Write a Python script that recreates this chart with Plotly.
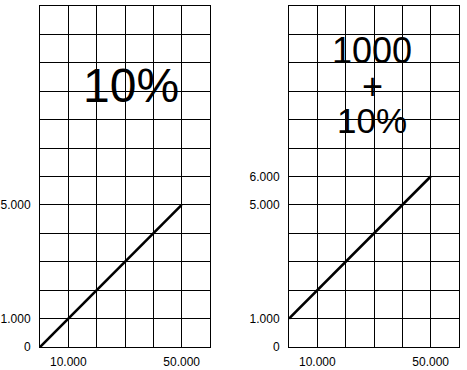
import plotly.graph_objects as go
from plotly.subplots import make_subplots

# Data
x_vals = [0, 50000]
left_y = [0, 5000]
right_y = [1000, 6000]

x_tickvals = [0, 10000, 20000, 30000, 40000, 50000, 60000]
x_ticktext = ["", "10.000", "", "", "", "50.000", ""]
y_tickvals = list(range(0, 13000, 1000))
left_y_ticktext = ["0", "1.000", "", "", "", "5.000", "", "", "", "", "", "", ""]
right_y_ticktext = ["0", "1.000", "", "", "", "5.000", "6.000", "", "", "", "", "", ""]

W, H = 467, 370

fig = make_subplots(rows=1, cols=2)
fig.add_trace(go.Scatter(x=x_vals, y=left_y, mode="lines",
                         line=dict(color="black", width=2.6)), row=1, col=1)
fig.add_trace(go.Scatter(x=x_vals, y=right_y, mode="lines",
                         line=dict(color="black", width=2.6)), row=1, col=2)

font = dict(family="Liberation Sans, Arial, sans-serif", size=12, color="black")
common_x = dict(range=[0, 60000], tickmode="array", tickvals=x_tickvals, ticktext=x_ticktext,
                showgrid=True, gridcolor="black", gridwidth=1, zeroline=False,
                showline=True, linecolor="black", linewidth=1, mirror=True,
                ticks="", tickfont=font, automargin=False, ticklabelstandoff=4)
common_y = dict(range=[0, 12000], tickmode="array", tickvals=y_tickvals,
                showgrid=True, gridcolor="black", gridwidth=1, zeroline=False,
                showline=True, linecolor="black", linewidth=1, mirror=True,
                ticks="", tickfont=font, automargin=False, ticklabelstandoff=6)

ydom = [(H - 347) / H, (H - 6) / H]
fig.update_layout(
    xaxis=dict(domain=[40 / W, 210 / W], **common_x),
    xaxis2=dict(domain=[289 / W, 459 / W], **common_x),
    yaxis=dict(domain=ydom, ticktext=left_y_ticktext, **common_y),
    yaxis2=dict(domain=ydom, ticktext=right_y_ticktext, **common_y),
    width=W, height=H,
    margin=dict(l=0, r=0, t=0, b=0),
    paper_bgcolor="white", plot_bgcolor="white",
    showlegend=False,
    font=font,
)

big = dict(family="Liberation Sans, Arial, sans-serif", color="black")
fig.add_annotation(x=32000, y=9185, xref="x", yref="y", text="10%", showarrow=False,
                   font=dict(size=48, **big))
fig.add_annotation(x=29300, y=10450, xref="x2", yref="y2", text="1000", showarrow=False,
                   font=dict(size=36, **big))
fig.add_annotation(x=29300, y=9150, xref="x2", yref="y2", text="+", showarrow=False,
                   font=dict(size=36, **big))
fig.add_annotation(x=29300, y=7960, xref="x2", yref="y2", text="10%", showarrow=False,
                   font=dict(size=35, **big))

fig.write_html("out.html", config={"displayModeBar": False},
               post_script="document.body.style.margin='0';document.body.style.overflow='hidden';")
